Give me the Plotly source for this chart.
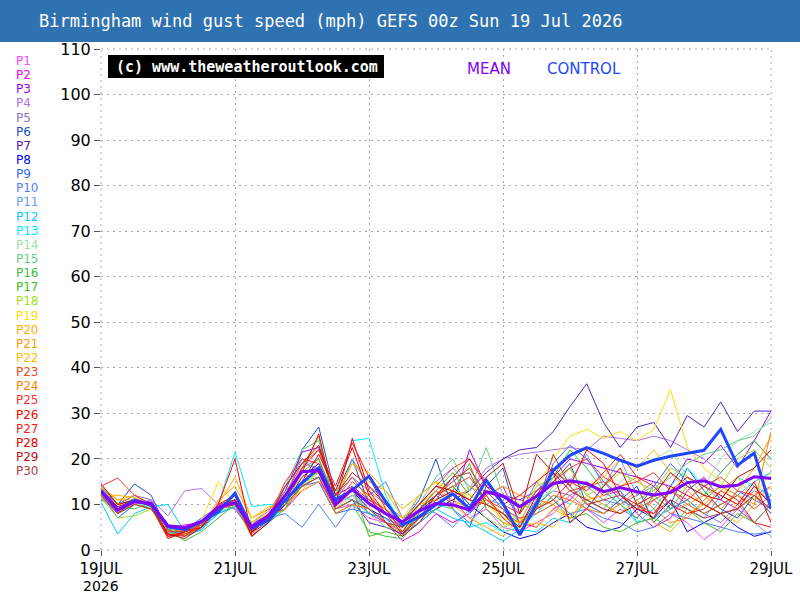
import plotly.graph_objects as go
import pandas as pd

# ---------------- data ----------------
times = pd.date_range("2026-07-19 00:00", periods=41, freq="6h")

mean_vals = [12.8, 8.8, 10.6, 10.2, 5.3, 4.9, 6.2, 9.4, 10.4, 5.1, 7.5,
             12.0, 17.2, 17.4, 9.9, 13.4, 10.2, 8.0, 6.2, 8.6, 10.2,
             9.9, 8.8, 12.8, 11.8, 9.5, 11.8, 14.6, 15.2, 14.6, 12.8,
             13.7, 12.8, 12.1, 12.6, 14.8, 15.2, 13.9, 14.2, 16.1, 15.7]

control_vals = [13.1, 8.8, 11.0, 9.9, 5.1, 4.5, 6.2, 8.4, 12.5, 4.8, 6.5,
                11.0, 14.7, 18.0, 11.0, 13.1, 16.2, 10.6, 5.5, 7.3, 10.0,
                12.3, 9.1, 15.3, 10.2, 3.3, 10.2, 17.5, 20.8, 22.5, 21.2,
                19.7, 18.4, 19.7, 20.6, 21.2, 21.9, 26.5, 18.6, 21.3, 9.1]

p01 = [12.5, 9.5, 10.5, 10, 4.5, 4, 5.5, 9, 10.5, 4.5, 7.5,
       11, 14, 16, 9, 10, 7, 6, 4, 7, 9,
       11, 7, 9, 5, 4, 6, 8, 12, 9, 6,
       9, 7, 11, 8, 6, 2.3, 5, 9, 12, 14]
p02 = [13, 8, 11, 9.5, 5, 5.5, 6, 10, 9, 4, 8,
       9, 13, 15, 10, 12, 8, 6, 2, 4, 8,
       6, 8, 12, 14, 6, 5, 9, 11, 15, 12,
       13, 8, 5, 7, 13, 16, 11, 9, 6, 10]
p03 = [12, 9, 11, 10.5, 5.5, 4, 6, 9.5, 11, 5.5, 8,
       13, 21.5, 22.5, 12, 14, 11, 9, 5, 9, 13,
       10, 22, 14, 12, 11, 13, 16, 20, 19, 18,
       17, 16, 15, 14, 20, 19, 23, 18, 24, 30.5]
p04 = [11, 9, 10, 11, 7.5, 13, 13.5, 10, 9, 6, 8.5,
       14, 19, 18, 10, 12, 11, 9, 6, 10, 14,
       12, 13, 18, 20, 21, 21.5, 22, 22.5, 22, 25,
       24.5, 24, 25, 24, 22, 20, 17, 21, 24, 20]
p05 = [13.5, 10, 12, 11, 4.5, 3.5, 5, 9, 10, 5, 7,
       12, 18, 20, 11, 16, 13, 10, 7, 8, 12,
       9, 6, 10, 12, 11, 10, 13, 12, 14, 11,
       10, 12, 15, 9, 11, 8, 6, 10, 13, 11]
p06 = [14, 10, 14.5, 12, 4, 3, 4.5, 9, 12, 4, 6,
       10, 22, 27, 12, 20, 10, 8, 6, 11, 20,
       9, 5, 14, 18, 5, 11, 15, 19, 10, 8,
       11, 14, 6, 10, 18, 13, 9, 7, 12, 8]
p07 = [12, 8, 11, 10, 5, 4.5, 6, 10, 11, 4, 7,
       12, 17, 18, 9, 11, 6, 5, 3.5, 6, 9,
       11, 13, 17, 20, 22, 22.5, 26, 31.5, 36.5, 28,
       22.5, 27, 28, 22.5, 29.5, 27, 32.5, 26, 30.5, 30.5]
p08 = [13, 8.5, 11, 10, 5, 5, 6.5, 9, 10, 4.5, 6.5,
       10, 16, 19, 11, 13, 9, 7, 3.5, 8, 12,
       14, 10, 7, 4, 2.5, 3.5, 6, 8, 5, 4,
       5, 9, 7, 11, 4, 6, 8, 5, 3, 4]
p09 = [12.5, 7, 10, 10, 4, 4.5, 7, 9.5, 10, 6, 7.5,
       11, 14, 15, 8, 9, 8, 7, 5, 9, 11,
       16, 8, 13, 9, 4, 9, 19, 23, 20, 15,
       11, 9, 14, 19, 15, 10, 8, 13, 11, 9]
p10 = [11, 10, 12, 10, 4.5, 5, 5.5, 8.5, 11, 4.5, 7,
       8, 5, 10, 5, 10, 12, 15, 7, 10, 8,
       5, 9, 13, 12, 8, 15, 11, 8, 9, 7,
       6, 4, 5, 8, 7, 6, 5, 4, 3.5, 4]
p11 = [11.5, 9, 10.5, 9, 3.5, 4, 5, 8, 9.5, 4, 6,
       12, 20, 17, 10, 20, 14, 11, 6, 12, 15,
       18, 14, 11, 10, 6, 13, 17, 15, 21, 14,
       20, 12, 14, 10, 9, 7, 12, 10, 6, 3]
p12 = [10.5, 3.5, 8, 9.5, 10, 4, 4.5, 8, 9.5, 5, 7,
       9, 15, 16, 12, 11, 8, 7, 3.5, 6, 9,
       7, 6, 4, 2, 4.5, 4, 7, 6, 11, 9,
       13, 6, 7, 9, 11, 8, 10, 12, 15, 17]
p13 = [13, 10, 11, 9, 5, 3, 4.5, 10, 21.5, 9.5, 10,
       10, 14, 16, 12, 24, 24.5, 12, 5, 7, 10,
       9, 5, 6, 4, 5, 8, 12, 10, 14, 13,
       10, 6, 9, 14, 18, 14, 11, 16, 14, 12]
p14 = [12, 9, 10, 10, 4, 3, 5, 9, 10, 5, 7.5,
       11, 15, 17, 9, 12, 9, 6, 5, 8, 11,
       12, 8, 4, 5, 6, 11, 13, 16, 10, 11,
       15, 18, 20, 22, 16, 14, 20, 24, 26, 28]
p15 = [12.5, 8, 10, 9, 4, 3, 5.5, 8.5, 9.5, 4, 7,
       14, 22, 24, 11, 13, 8, 5, 4, 10, 16,
       20, 13, 22.5, 12, 10, 9, 14, 18, 12, 10,
       8, 11, 13, 16, 19, 21, 22, 24, 25, 29]
p16 = [11, 9.5, 9, 10.5, 4.5, 2, 4, 7, 10, 3, 6,
       9, 18, 25, 8, 10, 4, 3, 2.5, 7, 9,
       13, 19, 9, 6, 5, 10, 16, 22, 18, 13,
       10, 7, 12, 9, 14, 12, 17, 21, 24, 20]
p17 = [13, 8, 10.5, 10, 5, 4, 6, 8, 12, 4, 7,
       13, 17, 20, 10, 14, 3, 4, 3, 9, 13,
       17, 12, 10, 8, 6, 9, 11, 7, 8, 5,
       4, 6, 7, 5, 9, 6, 4, 8, 6, 10]
p18 = [11.5, 7, 7.5, 9, 3, 3.5, 6, 9, 10, 5, 8,
       10, 14, 17, 9, 11, 9, 6, 4, 9, 12,
       14, 11, 7, 5, 8, 14, 16, 18, 12, 14,
       17, 15, 13, 18, 16, 12, 14, 20, 22, 18]
p19 = [12, 10, 11, 9.5, 4, 5, 6.5, 15, 10, 6, 8,
       11, 13, 18, 9, 13, 12, 9, 7, 12, 15,
       13, 12, 10, 7, 6, 14, 20, 25, 26.5, 24.5,
       26, 24, 26.5, 35.2, 22.6, 18, 15, 9, 12, 17]
p20 = [14, 11, 12, 10, 5, 4, 5.5, 10, 12, 6, 9,
       11, 15, 18, 11, 19, 15, 13, 9, 12, 15,
       10, 7, 5, 3, 7, 5, 9, 7, 12, 10,
       8, 11, 6, 4, 8, 10, 13, 16, 11, 14]
p21 = [13.5, 11, 11, 10, 5.5, 3.5, 5, 11, 14, 7, 9,
       12, 16, 17, 10, 13, 10, 8, 6, 10, 13,
       11, 9, 12, 14, 12, 11, 10, 7, 11, 12,
       14, 16, 11, 8, 10, 12, 9, 13, 18, 25]
p22 = [12, 12, 11.5, 10, 5, 4, 6, 10, 16, 7, 9.5,
       10, 13, 15, 12, 19, 17, 13, 7, 10, 11,
       9, 14, 12, 6, 5, 6, 5, 10, 14, 16,
       20, 18, 22, 17, 13, 10, 8, 6, 10, 14]
p23 = [13, 10, 11, 10, 4.5, 3, 5, 9.5, 11, 4, 7,
       12, 19, 22, 12, 16, 11, 8, 5, 9, 12,
       14, 16, 11, 9, 7, 8, 10, 13, 14, 15,
       12, 9, 11, 13, 10, 8, 10, 12, 9, 12]
p24 = [12.5, 9, 10, 9, 5, 4, 6, 9, 10, 5, 7.5,
       9, 14, 16, 8, 10, 9, 6, 4, 7, 10,
       12, 9, 11, 8, 6, 9, 12, 11, 9, 8,
       10, 13, 9, 6, 7, 11, 14, 12, 10, 26]
p25 = [14, 15.8, 12, 10, 3, 3.5, 5, 9, 11, 3, 7,
       15, 20, 19, 10, 15, 12, 8, 6, 10, 14,
       18, 20, 15, 10, 8, 13, 15, 18, 20, 16,
       14, 15, 17, 13, 11, 14, 16, 13, 12, 9]
p26 = [13, 9, 10.5, 10, 3, 4, 5, 10, 20, 3.5, 8,
       11, 17, 25.5, 10, 24.5, 13, 8, 3.5, 7, 12,
       16, 20, 14, 10, 12, 15, 18, 14, 22, 19,
       12, 9, 8, 13, 16, 14, 12, 10, 15, 6]
p27 = [12, 8, 11, 10, 3.5, 3, 6, 10, 12, 4, 7,
       12, 18, 22, 14, 23.5, 16, 9, 4, 9, 12,
       15, 18, 12, 7, 4, 9, 11, 15, 13, 17,
       21, 16, 14, 10, 8, 9, 13, 11, 6, 5]
p28 = [13, 9.5, 11, 9.5, 2.5, 4, 6.5, 9, 12, 3, 6,
       11, 15, 21, 13, 22.5, 12, 6, 3, 6, 11,
       13, 11, 10, 8, 5, 12, 17, 6, 9, 14,
       18, 10, 7, 14, 12, 10, 8, 9, 14, 10]
p29 = [14.5, 10, 11, 10, 3.5, 2.5, 5, 9, 11, 4, 7,
       14, 19, 23, 12, 17, 14, 10, 6, 10, 14,
       13, 11, 16, 19, 8, 21, 17, 13, 11, 9,
       8, 10, 12, 17, 14, 12, 11, 16, 18, 22]
p30 = [13, 8, 10, 9, 4, 4, 5.5, 9, 10, 5, 7,
       10, 14, 16, 9, 11, 9, 6, 5, 9, 12,
       16, 17, 10, 8, 4, 9, 21, 14, 10, 11,
       12, 10, 8, 11, 9, 7, 8, 9, 12, 9]

members = [p01, p02, p03, p04, p05, p06, p07, p08, p09, p10,
           p11, p12, p13, p14, p15, p16, p17, p18, p19, p20,
           p21, p22, p23, p24, p25, p26, p27, p28, p29, p30]
member_names = ["P%d" % i for i in range(1, 31)]
member_colors = ["#ff40ff", "#ee00ee", "#9900ff", "#b070e0", "#9070c0",
                 "#2050c0", "#5020c0", "#0000ff", "#3366ff", "#5080ff",
                 "#6a9aff", "#00ccff", "#00eeff", "#a0e0b0", "#60d080",
                 "#40c040", "#40c020", "#a0e020", "#ffe000", "#ffb000",
                 "#ff9900", "#ffb800", "#e05020", "#ff8000", "#ff3333",
                 "#ff0000", "#ff1a1a", "#e00000", "#c01010", "#b04040"]

tick_dates = ["2026-07-19", "2026-07-21", "2026-07-23", "2026-07-25", "2026-07-27", "2026-07-29"]
tick_text = ["19JUL", "21JUL", "23JUL", "25JUL", "27JUL", "29JUL"]
year_text = "2026"

title_text = "Birmingham wind gust speed (mph) GEFS 00z Sun 19 Jul 2026"

# ---------------- figure ----------------
L, R, T, B = 101, 29, 49, 50
W, H = 800, 600
pw, ph = W - L - R, H - T - B

def px(x):
    return (x - L) / pw

def py(y):
    return 1 - (y - T) / ph

fig = go.Figure()
for vals, name, col in zip(members, member_names, member_colors):
    fig.add_trace(go.Scatter(x=times, y=vals, mode="lines", name=name,
                             line=dict(color=col, width=1)))
fig.add_trace(go.Scatter(x=times, y=control_vals, mode="lines", name="CONTROL",
                         line=dict(color="#2048ff", width=3)))
fig.add_trace(go.Scatter(x=times, y=mean_vals, mode="lines", name="MEAN",
                         line=dict(color="#8000ff", width=3)))

DOT = "2px,4px"
grid = dict(showgrid=True, gridcolor="#a8a8a8", griddash=DOT, gridwidth=1)
fig.update_xaxes(type="date", range=["2026-07-19", "2026-07-29"],
                 tickvals=tick_dates, ticktext=tick_text,
                 ticks="outside", ticklen=5, tickcolor="#555",
                 tickfont=dict(family="DejaVu Sans", size=15, color="black"),
                 zeroline=False, showline=False, automargin=False, **grid)
fig.update_yaxes(range=[0, 110], dtick=10, tick0=0,
                 ticks="outside", ticklen=6, tickcolor="#555",
                 tickfont=dict(family="DejaVu Sans", size=16, color="black"),
                 zeroline=False, showline=False, automargin=False, **grid)

frame = dict(color="#a8a8a8", width=1, dash=DOT)
shapes = [
    dict(type="rect", xref="paper", yref="paper", x0=px(0), x1=px(800),
         y0=py(42), y1=py(0), fillcolor="#2f72b1", line=dict(width=0), layer="above"),
    dict(type="rect", xref="paper", yref="paper", x0=px(108), x1=px(384),
         y0=py(78), y1=py(55), fillcolor="black", line=dict(width=0), layer="above"),
    dict(type="line", xref="paper", yref="paper", x0=0, x1=1, y0=0, y1=0, line=frame, layer="below"),
    dict(type="line", xref="paper", yref="paper", x0=0, x1=1, y0=1, y1=1, line=frame, layer="below"),
    dict(type="line", xref="paper", yref="paper", x0=0, x1=0, y0=0, y1=1, line=frame, layer="below"),
    dict(type="line", xref="paper", yref="paper", x0=1, x1=1, y0=0, y1=1, line=frame, layer="below"),
]

annotations = [
    dict(text=title_text, xref="paper", yref="paper", x=px(37), y=py(21),
         xanchor="left", yanchor="middle", showarrow=False,
         font=dict(family="DejaVu Sans Mono", size=17, color="white")),
    dict(text="<b>(c) www.theweatheroutlook.com</b>", xref="paper", yref="paper",
         x=px(247), y=py(66.5), xanchor="center", yanchor="middle", showarrow=False,
         font=dict(family="DejaVu Sans Mono", size=15, color="white")),
    dict(text="MEAN", xref="paper", yref="paper", x=px(489), y=py(69),
         xanchor="center", yanchor="middle", showarrow=False,
         font=dict(family="DejaVu Sans", size=15, color="#8000ff")),
    dict(text="CONTROL", xref="paper", yref="paper", x=px(584), y=py(69),
         xanchor="center", yanchor="middle", showarrow=False,
         font=dict(family="DejaVu Sans", size=15, color="#2048ff")),
    dict(text=year_text, xref="paper", yref="paper", x=px(101), y=py(586),
         xanchor="center", yanchor="middle", showarrow=False,
         font=dict(family="DejaVu Sans", size=14, color="black")),
]
for i, (name, col) in enumerate(zip(member_names, member_colors)):
    annotations.append(dict(text=name, xref="paper", yref="paper",
                            x=px(14), y=py(61 + i * 14.14),
                            xanchor="left", yanchor="middle", showarrow=False,
                            font=dict(family="DejaVu Sans", size=12, color=col)))

fig.update_layout(width=W, height=H, margin=dict(l=L, r=R, t=T, b=B, autoexpand=False),
                  paper_bgcolor="white", plot_bgcolor="white",
                  showlegend=False, shapes=shapes, annotations=annotations)

fig.write_html("out.html")
